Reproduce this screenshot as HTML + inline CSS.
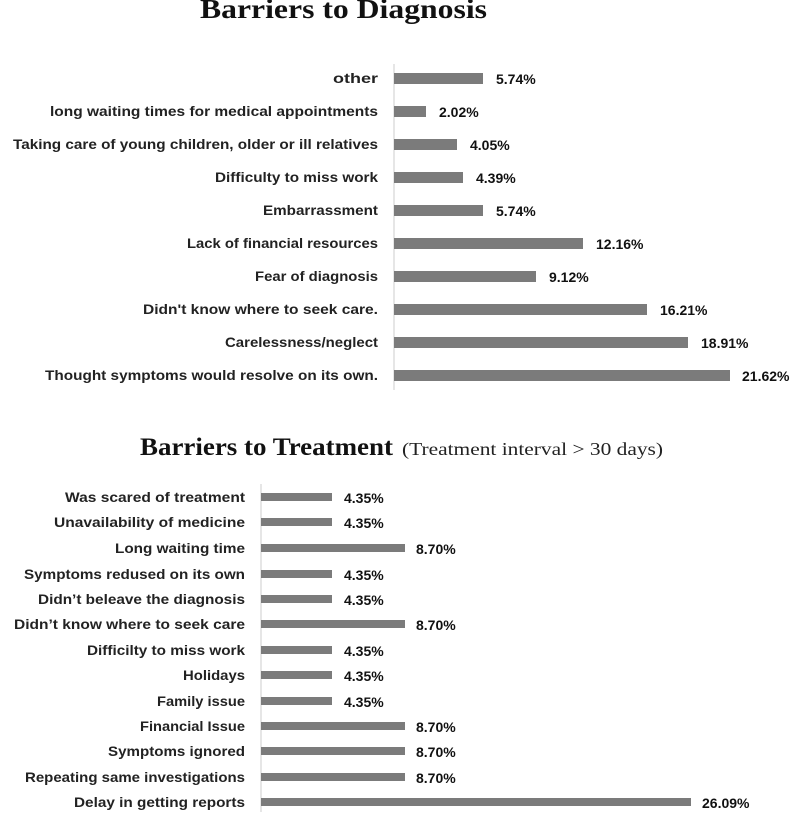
<!DOCTYPE html>
<html><head><meta charset="utf-8"><style>
body{margin:0;background:#fff}
svg{display:block}
.l{font-family:"Liberation Sans",sans-serif;font-weight:bold;font-size:14px;fill:#222}
.v{font-family:"Liberation Sans",sans-serif;font-weight:bold;font-size:14px;fill:#111}
.t{font-family:"Liberation Serif",serif;font-weight:bold;fill:#111}
</style></head><body>
<svg width="800" height="818" xmlns="http://www.w3.org/2000/svg">
<text class="t" x="200" y="18" font-size="27" textLength="287" lengthAdjust="spacingAndGlyphs">Barriers to Diagnosis</text>
<line x1="394" y1="64" x2="394" y2="390" stroke="#ccc"/>
<g fill="#7b7b7b">
<rect x="394" y="73" width="89" height="11"/>
<rect x="394" y="106" width="32" height="11"/>
<rect x="394" y="139" width="63" height="11"/>
<rect x="394" y="172" width="69" height="11"/>
<rect x="394" y="205" width="89" height="11"/>
<rect x="394" y="238" width="189" height="11"/>
<rect x="394" y="271" width="142" height="11"/>
<rect x="394" y="304" width="253" height="11"/>
<rect x="394" y="337" width="294" height="11"/>
<rect x="394" y="370" width="336" height="11"/>
</g>
<g class="l" text-anchor="end">
<text x="378" y="83" textLength="45" lengthAdjust="spacingAndGlyphs">other</text>
<text x="378" y="116" textLength="328" lengthAdjust="spacingAndGlyphs">long waiting times for medical appointments</text>
<text x="378" y="149" textLength="365" lengthAdjust="spacingAndGlyphs">Taking care of young children, older or ill relatives</text>
<text x="378" y="182" textLength="163" lengthAdjust="spacingAndGlyphs">Difficulty to miss work</text>
<text x="378" y="215" textLength="115" lengthAdjust="spacingAndGlyphs">Embarrassment</text>
<text x="378" y="248" textLength="191" lengthAdjust="spacingAndGlyphs">Lack of financial resources</text>
<text x="378" y="281" textLength="123" lengthAdjust="spacingAndGlyphs">Fear of diagnosis</text>
<text x="378" y="314" textLength="235" lengthAdjust="spacingAndGlyphs">Didn't know where to seek care.</text>
<text x="378" y="347" textLength="153" lengthAdjust="spacingAndGlyphs">Carelessness/neglect</text>
<text x="378" y="380" textLength="333" lengthAdjust="spacingAndGlyphs">Thought symptoms would resolve on its own.</text>
</g>
<g class="v">
<text x="496" y="84">5.74%</text>
<text x="439" y="117">2.02%</text>
<text x="470" y="150">4.05%</text>
<text x="476" y="183">4.39%</text>
<text x="496" y="216">5.74%</text>
<text x="596" y="249">12.16%</text>
<text x="549" y="282">9.12%</text>
<text x="660" y="315">16.21%</text>
<text x="701" y="348">18.91%</text>
<text x="742" y="381">21.62%</text>
</g>
<text x="140" y="455" class="t" font-size="25" textLength="253" lengthAdjust="spacingAndGlyphs">Barriers to Treatment</text>
<text x="402" y="455" font-family="Liberation Serif,serif" font-size="18" fill="#222" textLength="261" lengthAdjust="spacingAndGlyphs">(Treatment interval &gt; 30 days)</text>
<line x1="261" y1="484" x2="261" y2="812" stroke="#ccc"/>
<g fill="#7b7b7b">
<rect x="261" y="493" width="71" height="8"/>
<rect x="261" y="518" width="71" height="8"/>
<rect x="261" y="544" width="144" height="8"/>
<rect x="261" y="570" width="71" height="8"/>
<rect x="261" y="595" width="71" height="8"/>
<rect x="261" y="620" width="144" height="8"/>
<rect x="261" y="646" width="71" height="8"/>
<rect x="261" y="671" width="71" height="8"/>
<rect x="261" y="697" width="71" height="8"/>
<rect x="261" y="722" width="144" height="8"/>
<rect x="261" y="747" width="144" height="8"/>
<rect x="261" y="773" width="144" height="8"/>
<rect x="261" y="798" width="430" height="8"/>
</g>
<g class="l" text-anchor="end">
<text x="245" y="502" textLength="180" lengthAdjust="spacingAndGlyphs">Was scared of treatment</text>
<text x="245" y="527" textLength="191" lengthAdjust="spacingAndGlyphs">Unavailability of medicine</text>
<text x="245" y="553" textLength="130" lengthAdjust="spacingAndGlyphs">Long waiting time</text>
<text x="245" y="579" textLength="221" lengthAdjust="spacingAndGlyphs">Symptoms redused on its own</text>
<text x="245" y="604" textLength="207" lengthAdjust="spacingAndGlyphs">Didn’t beleave the diagnosis</text>
<text x="245" y="629" textLength="231" lengthAdjust="spacingAndGlyphs">Didn’t know where to seek care</text>
<text x="245" y="655" textLength="158" lengthAdjust="spacingAndGlyphs">Difficilty to miss work</text>
<text x="245" y="680" textLength="62" lengthAdjust="spacingAndGlyphs">Holidays</text>
<text x="245" y="706" textLength="88" lengthAdjust="spacingAndGlyphs">Family issue</text>
<text x="245" y="731" textLength="105" lengthAdjust="spacingAndGlyphs">Financial Issue</text>
<text x="245" y="756" textLength="137" lengthAdjust="spacingAndGlyphs">Symptoms ignored</text>
<text x="245" y="782" textLength="220" lengthAdjust="spacingAndGlyphs">Repeating same investigations</text>
<text x="245" y="807" textLength="171" lengthAdjust="spacingAndGlyphs">Delay in getting reports</text>
</g>
<g class="v">
<text x="344" y="503">4.35%</text>
<text x="344" y="528">4.35%</text>
<text x="416" y="554">8.70%</text>
<text x="344" y="580">4.35%</text>
<text x="344" y="605">4.35%</text>
<text x="416" y="630">8.70%</text>
<text x="344" y="656">4.35%</text>
<text x="344" y="681">4.35%</text>
<text x="344" y="707">4.35%</text>
<text x="416" y="732">8.70%</text>
<text x="416" y="757">8.70%</text>
<text x="416" y="783">8.70%</text>
<text x="702" y="808">26.09%</text>
</g>
</svg>
</body></html>
